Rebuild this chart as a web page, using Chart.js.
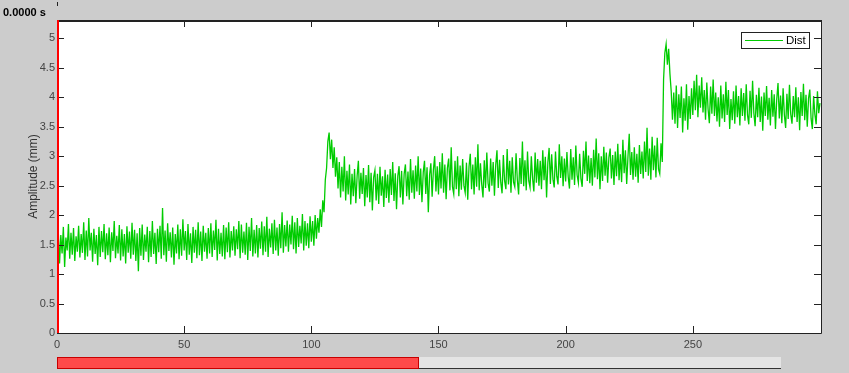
<!DOCTYPE html>
<html>
<head>
<meta charset="utf-8">
<script src="https://cdn.jsdelivr.net/npm/chart.js@4.4.1/dist/chart.umd.min.js"></script>
<style>
  html, body { margin: 0; padding: 0; background: #cccccc; }
  #wrap { position: relative; width: 849px; height: 373px; }
</style>
</head>
<body>
<div id="wrap"><canvas id="chart" width="849" height="373"></canvas></div>
<script>
// samples every 0.5 s
const xStep = 0.5;
const dist = [
  1.30,1.72,1.18,1.66,1.35,1.80,1.12,1.62,1.40,1.85,1.26,1.70,1.33,1.78,1.22,1.64,1.38,1.82,1.28,1.68,
  1.36,1.88,1.24,1.74,1.30,1.95,1.40,1.70,1.21,1.77,1.34,1.66,1.15,1.80,1.29,1.73,1.37,1.85,1.25,1.69,
  1.32,1.79,1.20,1.71,1.39,1.90,1.27,1.65,1.35,1.83,1.23,1.76,1.30,1.68,1.18,1.81,1.36,1.72,1.26,1.87,
  1.33,1.75,1.22,1.69,1.05,1.78,1.31,1.84,1.24,1.67,1.38,1.80,1.20,1.73,1.29,1.90,1.34,1.70,1.17,1.77,
  1.37,1.82,1.26,2.12,1.32,1.74,1.21,1.86,1.39,1.71,1.28,1.79,1.16,1.68,1.35,1.84,1.25,1.76,1.31,1.93,
  1.40,1.73,1.24,1.85,1.33,1.69,1.19,1.80,1.36,1.75,1.27,1.88,1.32,1.72,1.22,1.82,1.38,1.70,1.26,1.78,
  1.35,1.86,1.29,1.74,1.41,1.92,1.23,1.77,1.34,1.70,1.30,1.83,1.25,1.79,1.37,1.88,1.28,1.73,1.40,1.81,
  1.31,1.76,1.42,1.90,1.27,1.84,1.36,1.72,1.33,1.87,1.24,1.80,1.39,1.95,1.30,1.75,1.35,1.83,1.28,1.78,
  1.43,1.89,1.32,1.81,1.38,1.97,1.29,1.77,1.45,1.86,1.34,1.92,1.40,1.79,1.31,1.85,1.44,2.05,1.36,1.83,
  1.47,1.91,1.38,1.84,1.50,1.99,1.42,1.88,1.35,1.95,1.46,1.82,1.52,2.02,1.40,1.90,1.48,1.86,1.44,1.98,
  1.55,1.90,1.48,2.00,1.60,1.95,1.70,2.10,1.80,2.25,2.05,2.60,2.80,3.25,3.40,2.95,3.28,2.80,3.15,2.65,
  2.98,2.45,2.90,2.30,2.82,2.40,3.00,2.25,2.75,2.35,2.86,2.18,2.70,2.32,2.78,2.20,2.66,2.92,2.28,2.72,
  2.36,2.80,2.15,2.68,2.30,2.85,2.22,2.72,2.08,2.64,2.76,2.25,2.70,2.19,2.82,2.33,2.66,2.14,2.77,2.29,
  2.69,2.21,2.78,2.34,2.90,2.24,2.71,2.10,2.66,2.83,2.30,2.75,2.18,2.70,2.86,2.32,2.74,2.26,2.95,2.38,
  2.76,2.28,2.84,2.40,3.00,2.34,2.79,2.22,2.72,2.92,2.36,2.81,2.05,2.68,2.88,2.31,2.77,3.00,2.40,2.83,
  2.35,2.90,2.45,3.05,2.38,2.86,2.27,2.80,2.96,2.42,3.15,2.48,2.36,2.92,2.44,3.00,2.32,2.84,2.43,2.95,
  2.50,2.38,2.89,2.26,2.82,3.04,2.44,2.86,2.35,2.98,2.48,3.20,2.42,2.88,2.52,2.30,2.93,2.46,3.06,2.54,
  2.40,2.96,2.50,2.90,2.33,2.85,3.10,2.46,2.94,2.55,2.37,3.02,2.58,2.44,3.12,2.52,2.92,2.38,2.98,2.56,
  2.48,3.05,2.60,2.35,2.97,2.53,3.25,2.49,2.93,2.42,3.08,2.58,2.47,3.00,2.62,2.40,3.06,2.55,2.95,2.50,
  2.92,2.44,3.10,2.59,2.99,2.30,2.89,3.14,2.53,3.03,2.61,2.47,3.08,2.66,2.52,3.20,2.63,3.00,2.49,2.96,
  2.57,3.07,2.65,2.45,3.12,2.60,2.98,2.51,3.18,2.68,2.55,3.04,2.62,2.48,3.09,2.70,3.25,2.58,3.01,2.54,
  2.97,2.50,3.11,2.64,3.30,2.61,3.05,2.44,3.00,2.58,3.16,2.67,3.06,2.55,2.98,3.13,2.62,3.02,2.51,3.08,
  2.66,3.21,2.59,3.03,2.56,3.28,2.71,3.10,2.53,2.99,3.38,2.68,3.07,2.60,3.15,2.65,3.04,2.55,3.19,2.70,
  3.08,2.62,3.25,2.73,3.48,2.67,3.13,2.60,3.33,2.76,3.18,2.64,3.31,2.78,2.70,3.22,2.90,4.30,4.75,4.90,
  4.55,4.82,4.40,4.10,3.62,4.08,3.55,4.20,3.48,4.05,3.65,4.18,3.40,3.98,3.60,4.22,3.45,4.02,3.63,4.15,
  3.70,4.28,3.78,4.38,3.66,4.20,3.82,4.34,3.74,4.12,3.62,4.25,3.80,3.56,4.18,3.72,4.30,3.68,4.08,3.59,
  4.00,3.50,4.20,3.64,4.05,3.58,4.26,3.70,4.12,3.46,3.97,3.61,4.10,3.55,4.20,3.66,4.02,3.52,4.15,3.68,
  4.07,3.60,4.22,3.70,3.54,4.11,3.65,4.28,3.73,3.51,4.04,3.66,4.16,3.58,4.01,3.43,4.08,3.68,4.19,3.62,
  3.99,3.52,4.12,3.67,4.05,3.46,3.97,4.24,3.64,4.03,3.56,4.15,3.70,3.48,4.06,3.63,4.21,3.71,3.55,4.02,
  3.66,4.17,3.58,4.00,3.44,4.09,3.68,4.23,3.61,4.04,3.50,3.98,4.13,3.64,3.46,4.02,3.71,3.54,4.10,3.73,
  3.90
];
const xTicks = [0, 50, 100, 150, 200, 250];
const yTicks = [0, 0.5, 1, 1.5, 2, 2.5, 3, 3.5, 4, 4.5, 5];
const cursorTime = 0;     // red cursor, s
const progress = 0.5;     // playback bar
const timeLabel = '0.0000 s';

const points = dist.map((v, i) => ({ x: i * xStep, y: v }));
const labelFont = '11px "Liberation Sans", Arial, sans-serif';

// frame, inward ticks, y labels, cursor, legend, progress bar
const decor = {
  id: 'decor',
  beforeDraw(chart) {
    const c = chart.ctx;
    c.save();
    c.fillStyle = '#cccccc';
    c.fillRect(0, 0, chart.width, chart.height);
    const a = chart.chartArea;
    c.fillStyle = '#ffffff';
    c.fillRect(a.left, a.top, a.right - a.left, a.bottom - a.top);
    c.restore();
  },
  afterDraw(chart) {
    const c = chart.ctx;
    const a = chart.chartArea;
    const xs = chart.scales.x, ys = chart.scales.y;
    c.save();
    c.strokeStyle = '#222';
    c.lineWidth = 1;
    c.beginPath();
    yTicks.forEach(v => {
      const y = Math.round(ys.getPixelForValue(v)) + 0.5;
      c.moveTo(a.left, y); c.lineTo(a.left + 7, y);
      c.moveTo(a.right, y); c.lineTo(a.right - 7, y);
    });
    xTicks.forEach(v => {
      const x = Math.round(xs.getPixelForValue(v)) + 0.5;
      c.moveTo(x, a.bottom); c.lineTo(x, a.bottom - 7);
      c.moveTo(x, a.top); c.lineTo(x, a.top + 7);
    });
    c.stroke();
    // y tick labels
    c.fillStyle = '#444';
    c.font = labelFont;
    c.textAlign = 'right';
    c.textBaseline = 'middle';
    yTicks.forEach(v => {
      c.fillText(String(v), a.left - 2, ys.getPixelForValue(v));
    });
    c.textAlign = 'left';
    // frame
    c.beginPath();
    c.moveTo(a.left, a.bottom + 0.5); c.lineTo(a.right + 0.5, a.bottom + 0.5);
    c.lineTo(a.right + 0.5, a.top);
    c.stroke();
    c.lineWidth = 2;
    c.beginPath();
    c.moveTo(a.left, a.top + 1); c.lineTo(a.right + 1, a.top + 1);
    c.stroke();
    c.lineWidth = 1;
    c.beginPath();
    c.moveTo(a.left + 0.5, 2); c.lineTo(a.left + 0.5, 6);
    c.stroke();
    // cursor
    const cx = xs.getPixelForValue(cursorTime);
    c.strokeStyle = '#ff0000';
    c.lineWidth = 2;
    c.beginPath();
    c.moveTo(cx + 1, a.top); c.lineTo(cx + 1, a.bottom);
    c.stroke();
    // legend
    c.fillStyle = '#ffffff';
    c.fillRect(741, 32, 69, 17);
    c.strokeStyle = '#222';
    c.lineWidth = 1;
    c.strokeRect(741.5, 32.5, 68, 16);
    c.strokeStyle = '#00cc00';
    c.beginPath();
    c.moveTo(745, 40.5); c.lineTo(783, 40.5);
    c.stroke();
    c.fillStyle = '#000';
    c.font = '11.5px "Liberation Sans", Arial, sans-serif';
    c.textBaseline = 'middle';
    c.fillText('Dist', 786, 41);
    // time label
    c.font = 'bold 11px "Liberation Sans", Arial, sans-serif';
    c.textBaseline = 'alphabetic';
    c.fillText(timeLabel, 3, 16);
    // progress bar
    const bl = a.left, br = 781, bt = 357, bb = 368;
    const split = bl + (br - bl) * progress;
    c.fillStyle = '#e4e4e4';
    c.fillRect(split, bt, br - split, bb - bt);
    c.strokeStyle = '#333';
    c.beginPath();
    c.moveTo(split, bb + 0.5); c.lineTo(br, bb + 0.5);
    c.stroke();
    c.fillStyle = '#ff4a4a';
    c.fillRect(bl, bt, split - bl, bb - bt + 1);
    c.strokeStyle = '#c80000';
    c.strokeRect(bl + 0.5, bt + 0.5, split - bl - 1, bb - bt);
    c.restore();
  }
};

new Chart(document.getElementById('chart'), {
  type: 'line',
  data: {
    datasets: [{
      label: 'Dist',
      data: points,
      borderColor: '#00cc00',
      borderWidth: 1.3,
      pointRadius: 0,
      tension: 0
    }]
  },
  options: {
    responsive: false,
    animation: false,
    events: [],
    layout: { padding: { top: 20, right: 28, left: 0, bottom: 0 } },
    plugins: { legend: { display: false }, tooltip: { enabled: false } },
    scales: {
      x: {
        type: 'linear',
        min: 0,
        max: 300.4,
        grid: { display: false, drawTicks: false },
        border: { display: false },
        afterBuildTicks: s => { s.ticks = xTicks.map(v => ({ value: v })); },
        afterFit: s => { s.height = 40; },
        ticks: {
          padding: 5,
          maxRotation: 0,
          color: '#444',
          font: { family: '"Liberation Sans", Arial, sans-serif', size: 11 },
          callback: v => String(v)
        }
      },
      y: {
        min: 0,
        max: 5.31,
        grid: { display: false, drawTicks: false },
        border: { display: false },
        afterBuildTicks: s => { s.ticks = yTicks.map(v => ({ value: v })); },
        afterFit: s => { s.width = 57; },
        title: {
          display: true,
          text: 'Amplitude (mm)',
          color: '#333',
          padding: { top: 26, bottom: 0 },
          font: { family: '"Liberation Sans", Arial, sans-serif', size: 12 }
        },
        ticks: { display: false }
      }
    }
  },
  plugins: [decor]
});
</script>
</body>
</html>
